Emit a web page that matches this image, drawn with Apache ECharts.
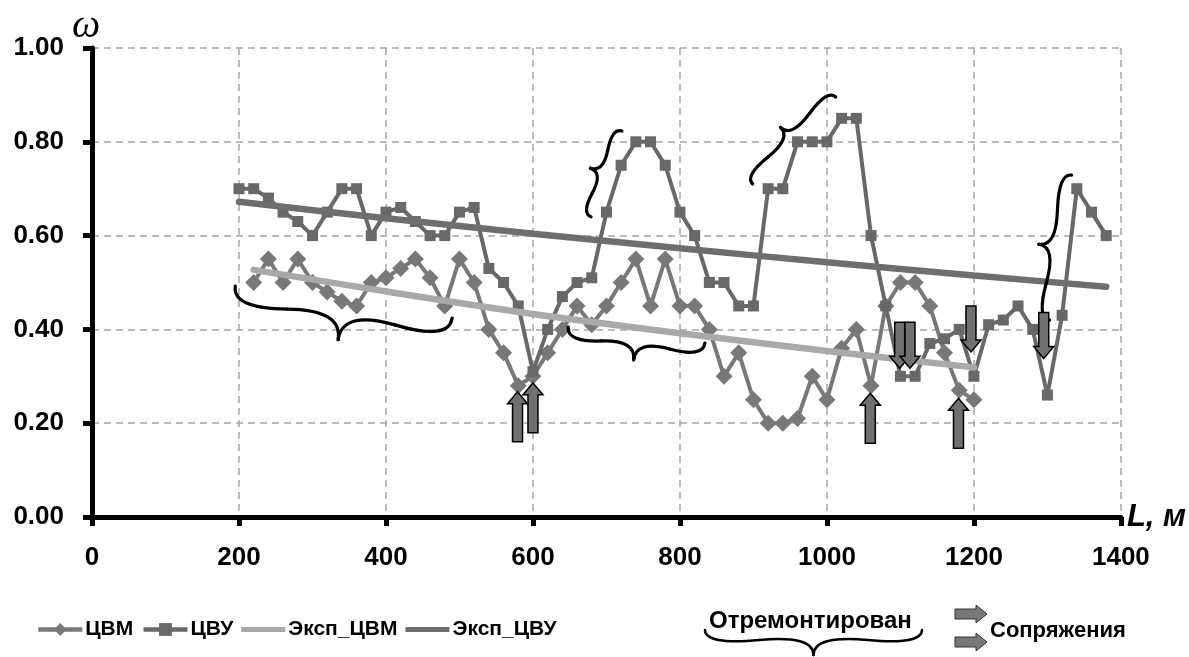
<!DOCTYPE html>
<html><head><meta charset="utf-8">
<script src="https://cdn.jsdelivr.net/npm/echarts@6/dist/echarts.min.js"></script>
<style>html,body{margin:0;padding:0;background:#fff}#c{width:1189px;height:657px}</style>
</head><body><div id="c"></div>
<script>
// ---------- data ----------
const xTicks = [0, 200, 400, 600, 800, 1000, 1200, 1400];
const yTicks = [0, 0.2, 0.4, 0.6, 0.8, 1.0];

const cvmX = [220,240,260,280,300,320,340,360,380,400,420,440,460,480,500,520,540,560,580,600,
              620,640,660,680,700,720,740,760,780,800,820,840,860,880,900,920,940,960,980,1000,
              1020,1040,1060,1080,1100,1120,1140,1160,1180,1200];
const cvmY = [0.50,0.55,0.50,0.55,0.50,0.48,0.46,0.45,0.50,0.51,0.53,0.55,0.51,0.45,0.55,0.50,0.40,0.35,0.28,0.30,
              0.35,0.40,0.45,0.41,0.45,0.50,0.55,0.45,0.55,0.45,0.45,0.40,0.30,0.35,0.25,0.20,0.20,0.21,0.30,0.25,
              0.36,0.40,0.28,0.45,0.50,0.50,0.45,0.35,0.27,0.25];

const cvuX = [200,220,240,260,280,300,320,340,360,380,400,420,440,460,480,500,520,540,560,580,
              600,620,640,660,680,700,720,740,760,780,800,820,840,860,880,900,920,940,960,980,
              1000,1020,1040,1060,1080,1100,1120,1140,1160,1180,1200,1220,1240,1260,1280,1300,1320,1340,1360,1380];
const cvuY = [0.70,0.70,0.68,0.65,0.63,0.60,0.65,0.70,0.70,0.60,0.65,0.66,0.63,0.60,0.60,0.65,0.66,0.53,0.50,0.45,
              0.31,0.40,0.47,0.50,0.51,0.65,0.75,0.80,0.80,0.75,0.65,0.60,0.50,0.50,0.45,0.45,0.70,0.70,0.80,0.80,
              0.80,0.85,0.85,0.60,0.45,0.30,0.30,0.37,0.38,0.40,0.30,0.41,0.42,0.45,0.40,0.26,0.43,0.70,0.65,0.60];

// exponential trend lines
const trendCvmX = [220, 400, 600, 800, 1000, 1200];
const trendCvmY = [0.527, 0.481, 0.433, 0.392, 0.354, 0.319];
const trendCvuX = [200, 400, 600, 800, 1000, 1200, 1380];
const trendCvuY = [0.672, 0.637, 0.604, 0.573, 0.543, 0.515, 0.491];

const seriesNames = ['ЦВМ', 'ЦВУ', 'Эксп_ЦВМ', 'Эксп_ЦВУ'];
const noteRepaired = 'Отремонтирован';
const noteJoints = 'Сопряжения';

// annotation anchors (data coordinates): up arrows under ЦВМ dips, down arrows above ЦВУ dips
const upArrowTips = [[579, 0.267], [600, 0.286], [1059, 0.264], [1179, 0.253]];
const downArrowTips = [[1099, 0.317], [1113, 0.317], [1196, 0.352], [1295, 0.338]];
// braces: [x1, y1, x2, y2] in data coordinates
const braces = [
  [195, 0.4925, 490, 0.424],
  [648, 0.405, 834, 0.371],
  [721, 0.823, 679, 0.640],
  [1012, 0.8955, 899, 0.710],
  [1333, 0.729, 1303, 0.420]
];
const braceDepth = [38, 25, 17, 19, 22];

// ---------- chart ----------
const pairs = (xs, ys) => xs.map((x, i) => [x, ys[i]]);
const FONT = "'Liberation Sans', Arial, sans-serif";
const chart = echarts.init(document.getElementById('c'), null, {renderer: 'canvas'});
const barIcon = 'path://M0,0 L44,0 L44,5 L0,5 Z';

const option = {
  backgroundColor: '#fff',
  animation: false,
  grid: {left: 92, right: 68, top: 48, bottom: 140, containLabel: false},
  xAxis: {
    type: 'value', min: xTicks[0], max: xTicks[xTicks.length - 1], interval: 200,
    name: 'L, м', nameLocation: 'end', nameGap: 6,
    nameTextStyle: {fontFamily: FONT, fontSize: 31, fontWeight: 'bold', fontStyle: 'italic', color: '#000', verticalAlign: 'middle', padding: [0, 0, 6, 0]},
    axisLine: {show: true, onZero: false, lineStyle: {color: '#000', width: 5}},
    axisTick: {show: true, inside: false, length: 9, lineStyle: {color: '#000', width: 5}},
    axisLabel: {margin: 28, fontFamily: FONT, fontSize: 26, fontWeight: 'bold', color: '#000', formatter: v => String(v)},
    splitLine: {show: true, lineStyle: {color: '#a6a6a6', width: 1.5, type: [7, 5]}}
  },
  yAxis: {
    type: 'value', min: yTicks[0], max: yTicks[yTicks.length - 1], interval: 0.2,
    name: 'ω', nameLocation: 'end', nameGap: 2,
    nameTextStyle: {fontFamily: "'Liberation Serif', 'DejaVu Serif', serif", fontSize: 40, fontStyle: 'italic', color: '#000', align: 'center', padding: [0, 12, 0, 0]},
    axisLine: {show: true, onZero: false, lineStyle: {color: '#000', width: 5}},
    axisTick: {show: true, inside: false, length: 9, lineStyle: {color: '#000', width: 5}},
    axisLabel: {margin: 28, fontFamily: FONT, fontSize: 26, fontWeight: 'bold', color: '#000', formatter: v => v.toFixed(2)},
    splitLine: {show: true, lineStyle: {color: '#a6a6a6', width: 1.5, type: [7, 5]}}
  },
  legend: {
    data: [{name: seriesNames[0]}, {name: seriesNames[1]},
           {name: seriesNames[2], icon: barIcon}, {name: seriesNames[3], icon: barIcon}],
    left: 36, top: 619, orient: 'horizontal', padding: 0,
    itemWidth: 44, itemHeight: 16, itemGap: 8,
    lineStyle: {width: 4.5},
    textStyle: {fontFamily: FONT, fontSize: 21, fontWeight: 'bold', color: '#000', padding: [0, 0, 0, -2]}
  },
  series: [
    {name: seriesNames[0], type: 'line', data: pairs(cvmX, cvmY), symbol: 'diamond', symbolSize: 17,
     itemStyle: {color: '#787878'}, lineStyle: {color: '#787878', width: 4}, z: 2},
    {name: seriesNames[1], type: 'line', data: pairs(cvuX, cvuY), symbol: 'rect', symbolSize: 11,
     itemStyle: {color: '#686868'}, lineStyle: {color: '#686868', width: 4}, z: 3},
    {name: seriesNames[2], type: 'line', data: pairs(trendCvmX, trendCvmY), symbol: 'none', smooth: 0.3,
     itemStyle: {color: '#a9a9a9'}, lineStyle: {color: '#a9a9a9', width: 6.5, cap: 'round'}, z: 4},
    {name: seriesNames[3], type: 'line', data: pairs(trendCvuX, trendCvuY), symbol: 'none', smooth: 0.3,
     itemStyle: {color: '#6e6e6e'}, lineStyle: {color: '#6e6e6e', width: 6.5, cap: 'round'}, z: 4}
  ]
};
chart.setOption(option);

// ---------- annotations (braces, arrows, extra legend entries) ----------
// curly brace from (x1,y1) to (x2,y2), tip at distance w, built from 4 quadratic curves
function braceCurves(x1, y1, x2, y2, w, q) {
  let dx = x1 - x2, dy = y1 - y2;
  const len = Math.sqrt(dx * dx + dy * dy);
  dx /= len; dy /= len;
  const qx1 = x1 + q * w * dy, qy1 = y1 - q * w * dx;
  const qx2 = (x1 - .25 * len * dx) + (1 - q) * w * dy, qy2 = (y1 - .25 * len * dy) - (1 - q) * w * dx;
  const tx = (x1 - .5 * len * dx) + w * dy, ty = (y1 - .5 * len * dy) - w * dx;
  const qx3 = x2 + q * w * dy, qy3 = y2 - q * w * dx;
  const qx4 = (x1 - .75 * len * dx) + (1 - q) * w * dy, qy4 = (y1 - .75 * len * dy) - (1 - q) * w * dx;
  return [
    {x1: x1, y1: y1, cpx1: qx1, cpy1: qy1, x2: qx2, y2: qy2},
    {x1: qx2, y1: qy2, cpx1: 2 * qx2 - qx1, cpy1: 2 * qy2 - qy1, x2: tx, y2: ty},
    {x1: x2, y1: y2, cpx1: qx3, cpy1: qy3, x2: qx4, y2: qy4},
    {x1: qx4, y1: qy4, cpx1: 2 * qx4 - qx3, cpy1: 2 * qy4 - qy3, x2: tx, y2: ty}
  ];
}
function arrowV(tx, ty, L, dir) { // dir = +1 up-pointing (body below), -1 down-pointing
  const s = dir, hh = 12, hw = 10, sw = 5;
  return [[tx, ty], [tx + hw, ty + s * hh], [tx + sw, ty + s * hh], [tx + sw, ty + s * L],
          [tx - sw, ty + s * L], [tx - sw, ty + s * hh], [tx - hw, ty + s * hh]];
}
function arrowR(x0, cy, L) {
  const hl = 11, hh = 9, sh = 5;
  return [[x0 + L, cy], [x0 + L - hl, cy - hh], [x0 + L - hl, cy - sh], [x0, cy - sh],
          [x0, cy + sh], [x0 + L - hl, cy + sh], [x0 + L - hl, cy + hh]];
}
const px = p => chart.convertToPixel({gridIndex: 0}, p);
const arrowStyle = {fill: '#707070', stroke: '#000', lineWidth: 1.5};
const g = [];
function pushBrace(x1, y1, x2, y2, w, lw) {
  braceCurves(x1, y1, x2, y2, w, 0.6).forEach(s => {
    g.push({type: 'bezierCurve', z: 100, shape: s, style: {fill: null, stroke: '#000', lineWidth: lw, lineCap: 'round'}});
  });
}
braces.forEach((b, i) => {
  const a = px([b[0], b[1]]), c = px([b[2], b[3]]);
  pushBrace(a[0], a[1], c[0], c[1], braceDepth[i], 3.2);
});
upArrowTips.forEach(t => { const p = px(t); g.push({type: 'polygon', z: 101, shape: {points: arrowV(p[0], p[1], 50, 1)}, style: arrowStyle}); });
downArrowTips.forEach(t => { const p = px(t); g.push({type: 'polygon', z: 101, shape: {points: arrowV(p[0], p[1], 46, -1)}, style: arrowStyle}); });
// extra legend entries
g.push({type: 'text', z: 100, left: 709, top: 609, style: {text: noteRepaired, fontFamily: "'Liberation Sans Narrow', " + FONT, fontSize: 24, fontWeight: 'bold', fill: '#000'}});
pushBrace(705, 630, 922, 630, 25, 2.5);
g.push({type: 'polygon', z: 100, shape: {points: arrowR(955, 614, 32)}, style: {fill: '#777', stroke: '#333', lineWidth: 1}});
g.push({type: 'polygon', z: 100, shape: {points: arrowR(955, 642, 32)}, style: {fill: '#777', stroke: '#333', lineWidth: 1}});
g.push({type: 'text', z: 100, left: 990, top: 620, style: {text: noteJoints, fontFamily: FONT, fontSize: 22, fontWeight: 'bold', fill: '#000'}});
chart.setOption({graphic: g});
</script></body></html>
